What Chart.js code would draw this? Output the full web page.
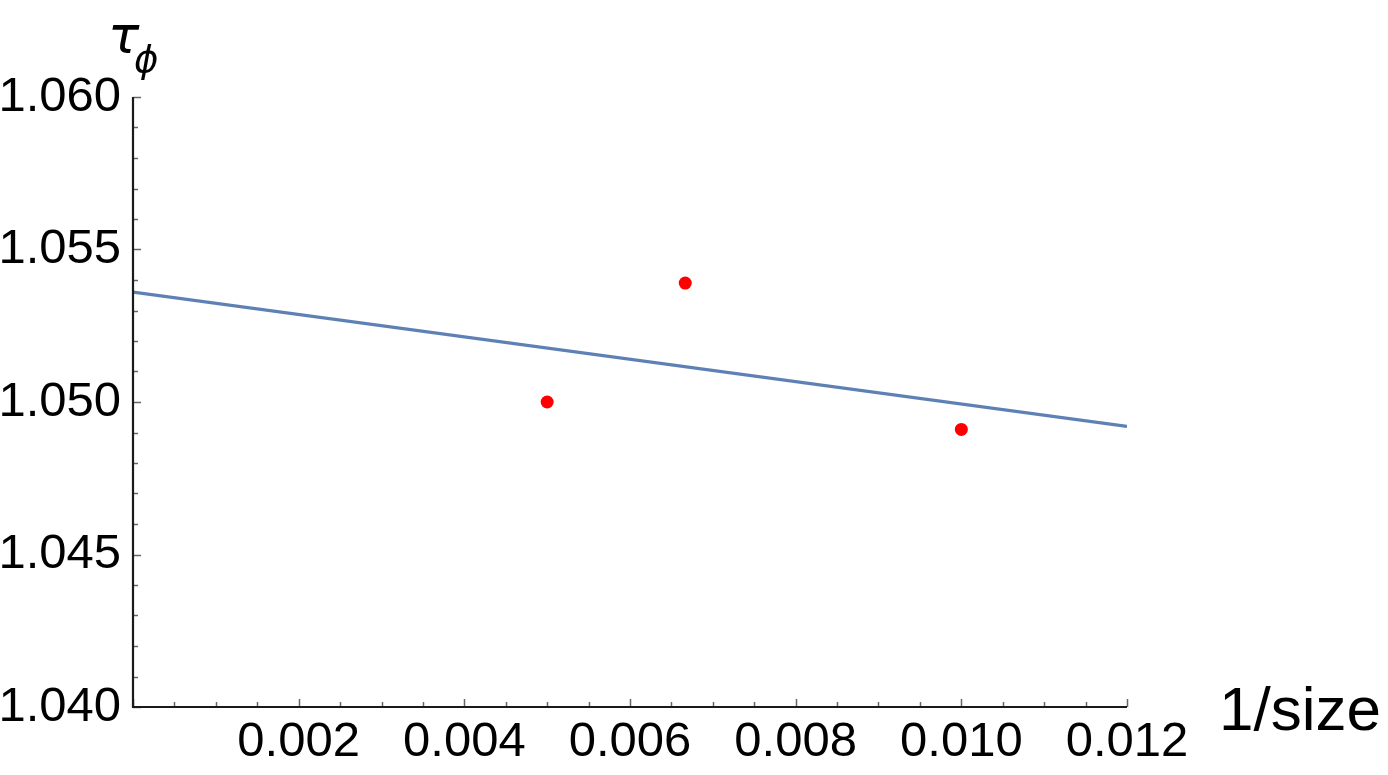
<!DOCTYPE html>
<html>
<head>
<meta charset="utf-8">
<script src="https://cdn.jsdelivr.net/npm/chart.js@4.4.1/dist/chart.umd.min.js"></script>
<style>
  html, body { margin: 0; padding: 0; background: #fff; }
  #wrap { width: 1388px; height: 775px; position: relative; }
</style>
</head>
<body>
<div id="wrap"><canvas id="fit-canvas"></canvas></div>
<script>
// measured points (1/size vs tau_phi)
const sizeInv = [0.005, 0.006667, 0.010];
const tauPhi = [1.0500, 1.0539, 1.0491];

// linear fit, read at the two ends of the plot range
const fitX = [0, 0.012];
const fitY = [1.0536, 1.0492];

// axis ranges and label steps
const xRange = [0, 0.012];
const yRange = [1.040, 1.060];
const xMinorStep = 0.0005, xMajorStep = 0.002;
const yMinorStep = 0.001, yMajorStep = 0.005;

const FONT = '"Liberation Sans", Arial, sans-serif';

// true when v is (close to) a multiple of step
const isMultiple = (v, step) => {
    const r = v / step;
    return Math.abs(r - Math.round(r)) < 1e-6;
};

// axes, inward tick marks and the two axis titles
const axesPlugin = {
    id: 'mmaAxes',
    afterDraw(chart) {
        const ctx = chart.ctx;
        const area = chart.chartArea;
        const xs = chart.scales.x, ys = chart.scales.y;
        ctx.save();

        // tick marks
        ctx.strokeStyle = '#666';
        ctx.lineWidth = 1.5;
        xs.ticks.forEach(t => {
            const px = Math.round(xs.getPixelForValue(t.value)) + 0.5;
            const len = isMultiple(t.value, xMajorStep) ? 8 : 5;
            ctx.beginPath();
            ctx.moveTo(px, area.bottom);
            ctx.lineTo(px, area.bottom - len);
            ctx.stroke();
        });
        ys.ticks.forEach(t => {
            const py = Math.round(ys.getPixelForValue(t.value)) + 0.5;
            const len = isMultiple(t.value - yRange[0], yMajorStep) ? 8 : 5;
            ctx.beginPath();
            ctx.moveTo(area.left, py);
            ctx.lineTo(area.left + len, py);
            ctx.stroke();
        });

        // axis lines
        ctx.strokeStyle = '#1a1a1a';
        ctx.lineWidth = 2.2;
        ctx.beginPath();
        ctx.moveTo(area.left, area.top);
        ctx.lineTo(area.left, area.bottom);
        ctx.lineTo(area.right, area.bottom);
        ctx.stroke();

        // axis titles
        ctx.fillStyle = '#000';
        ctx.textAlign = 'left';
        ctx.textBaseline = 'alphabetic';
        ctx.font = 'italic 52px "DejaVu Sans", sans-serif';
        ctx.fillText('τ', area.left - 25, area.top - 44);
        ctx.font = 'italic 37px "DejaVu Sans", sans-serif';
        ctx.fillText('ϕ', area.left + 1, area.top - 25);

        ctx.font = '62px ' + FONT;
        ctx.fillText('1/size', area.right + 92, area.bottom + 23);
        ctx.restore();
    }
};

const ctx = document.getElementById('fit-canvas').getContext('2d');
new Chart(ctx, {
    type: 'scatter',
    data: {
        datasets: [
            {
                type: 'line',
                label: 'fit',
                data: fitX.map((x, i) => ({ x: x, y: fitY[i] })),
                borderColor: '#5E81B5',
                borderWidth: 3.3,
                pointRadius: 0,
                fill: false,
                tension: 0
            },
            {
                label: 'data',
                data: sizeInv.map((x, i) => ({ x: x, y: tauPhi[i] })),
                backgroundColor: '#ff0000',
                borderWidth: 0,
                pointRadius: 6.5
            }
        ]
    },
    options: {
        responsive: true,
        maintainAspectRatio: false,
        animation: false,
        layout: { padding: { top: 97, right: 261, left: 0, bottom: 0 } },
        plugins: {
            legend: { display: false },
            tooltip: { enabled: false }
        },
        scales: {
            x: {
                type: 'linear',
                min: xRange[0],
                max: xRange[1],
                grid: { display: false, drawTicks: false },
                border: { display: false },
                ticks: {
                    stepSize: xMinorStep,
                    autoSkip: false,
                    maxRotation: 0,
                    minRotation: 0,
                    padding: 11,
                    color: '#000',
                    font: { family: FONT, size: 49, lineHeight: 1 },
                    callback: (v) => (v > 1e-9 && isMultiple(v, xMajorStep)) ? v.toFixed(3) : ''
                },
                afterFit: (scale) => { scale.height = 68; }
            },
            y: {
                type: 'linear',
                min: yRange[0],
                max: yRange[1],
                grid: { display: false, drawTicks: false },
                border: { display: false },
                ticks: {
                    stepSize: yMinorStep,
                    autoSkip: false,
                    padding: 12,
                    color: '#000',
                    font: { family: FONT, size: 49, lineHeight: 1 },
                    callback: (v) => isMultiple(v - yRange[0], yMajorStep) ? v.toFixed(3) : ''
                },
                afterFit: (scale) => { scale.width = 133; }
            }
        }
    },
    plugins: [axesPlugin]
});
</script>
</body>
</html>
